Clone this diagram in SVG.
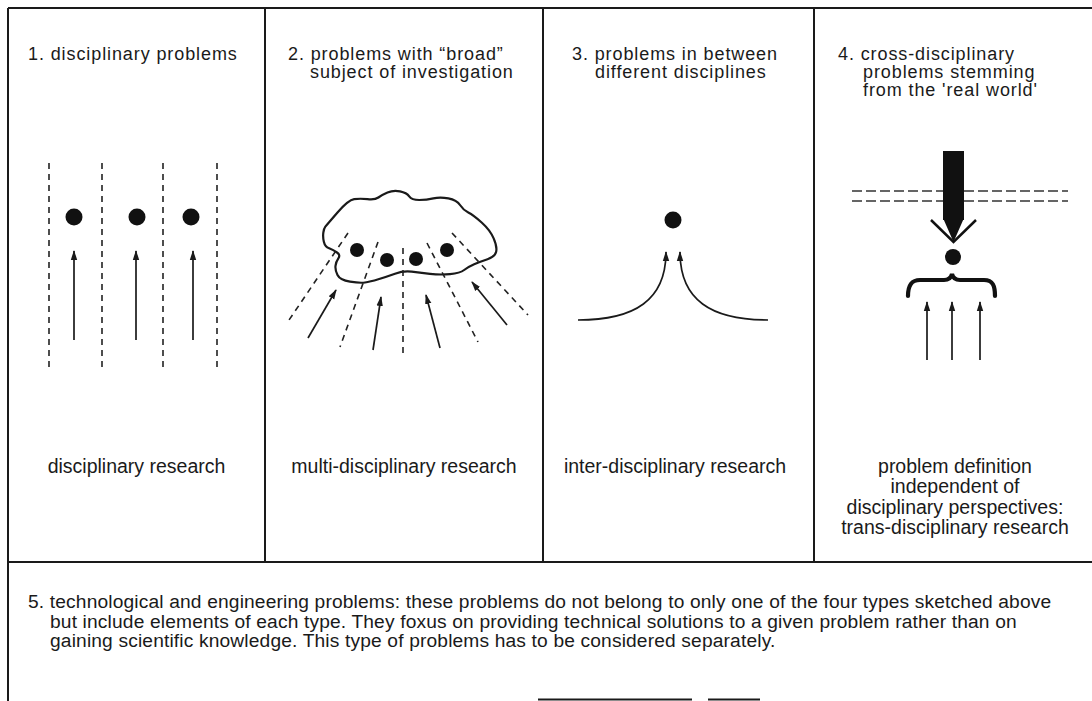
<svg xmlns="http://www.w3.org/2000/svg" width="1092" height="701" viewBox="0 0 1092 701">
<style>
.t{font-family:"Liberation Sans",Arial,Helvetica,sans-serif;font-size:19.5px;fill:#1a1a1a}
.h{font-size:18px;letter-spacing:0.9px}
.p{font-size:19.2px;letter-spacing:0.15px}
.frame{stroke:#1a1a1a;stroke-width:2;fill:none}
.dash{stroke:#222;stroke-width:1.6;stroke-dasharray:6 5;fill:none}
.hdash{stroke:#333;stroke-width:1.5;stroke-dasharray:10 4;fill:none}
.arr{stroke:#1a1a1a;stroke-width:1.7;fill:none;marker-end:url(#ah)}
.dot{fill:#111}
</style>
<defs>
<marker id="ah" viewBox="0 0 10 8" refX="9" refY="4" markerWidth="10" markerHeight="8" orient="auto" markerUnits="userSpaceOnUse">
<path d="M0,0.8 L10,4 L0,7.2 z" fill="#1a1a1a"/>
</marker>
</defs>
<rect width="1092" height="701" fill="#fff"/>

<g id="frame">
<line class="frame" x1="8" y1="8" x2="1092" y2="8"/>
<line class="frame" x1="8" y1="562" x2="1092" y2="562"/>
<line class="frame" x1="8" y1="8" x2="8" y2="701"/>
<line class="frame" x1="265" y1="8" x2="265" y2="562"/>
<line class="frame" x1="543" y1="8" x2="543" y2="562"/>
<line class="frame" x1="814" y1="8" x2="814" y2="562"/>
<line class="frame" x1="538" y1="699.5" x2="692" y2="699.5"/>
<line class="frame" x1="708" y1="699.5" x2="760" y2="699.5"/>
</g>

<g id="panel1">
<text class="t h" x="28" y="60">1. disciplinary problems</text>
<line class="dash" x1="49" y1="163" x2="49" y2="372"/>
<line class="dash" x1="102" y1="163" x2="102" y2="372"/>
<line class="dash" x1="163" y1="163" x2="163" y2="372"/>
<line class="dash" x1="217" y1="163" x2="217" y2="372"/>
<circle class="dot" cx="74" cy="217" r="8.5"/>
<circle class="dot" cx="137" cy="217" r="8.5"/>
<circle class="dot" cx="191" cy="217" r="8.5"/>
<text class="t" x="136.5" y="473" text-anchor="middle">disciplinary research</text>
</g>

<g id="panel2">
<text class="t h" x="288" y="60">2. problems with “broad”<tspan x="310" y="78">subject of investigation</tspan></text>
<path d="M325.35,226.65 Q326.7,225 337.5,212.5 Q348.3,200 354.15,199.15 Q360,198.3 367.5,199.15 Q375,200 378.35,197.5 Q381.7,195 387.5,192.5 Q393.3,190 400,191.35 Q406.7,192.7 409.2,196.35 Q411.7,200 419.2,200 Q426.7,200 433.35,198.35 Q440,196.7 448.35,198.35 Q456.7,200 460,205 Q463.3,210 468.3,212.5 Q473.3,215 481.65,222.5 Q490,230 493.65,238.35 Q497.3,246.7 496.15,251.7 Q495,256.7 487.5,259.2 Q480,261.7 474.15,264.2 Q468.3,266.7 464.15,270 Q460,273.3 450,274.15 Q440,275 430,273.85 Q420,272.7 411.65,271.7 Q403.3,270.7 395,273.7 Q386.7,276.7 378.35,279.2 Q370,281.7 365,282.5 Q360,283.3 350,281.65 Q340,280 337.5,275 Q335,270 335.5,265.85 Q336,261.7 338.35,258.35 Q340.7,255 337,252.5 Q333.3,250 329.15,248.35 Q325,246.7 323.85,241.7 Q322.7,236.7 323.35,232.5 Q324,228.3 325.35,226.65 Z" fill="none" stroke="#1a1a1a" stroke-width="2.2" stroke-linejoin="round"/>
<line class="dash" x1="348" y1="233" x2="287" y2="323"/>
<line class="dash" x1="378" y1="242" x2="340" y2="347"/>
<line class="dash" x1="403" y1="248" x2="403" y2="358"/>
<line class="dash" x1="427" y1="243" x2="478" y2="342"/>
<line class="dash" x1="452" y1="233" x2="528" y2="315"/>
<circle class="dot" cx="357" cy="250" r="7"/>
<circle class="dot" cx="387" cy="260" r="7"/>
<circle class="dot" cx="416" cy="259" r="7"/>
<circle class="dot" cx="447" cy="250" r="7"/>
<text class="t" x="404" y="473" text-anchor="middle">multi-disciplinary research</text>
</g>

<g id="panel3">
<text class="t h" x="572" y="60">3. problems in between<tspan x="595" y="78">different disciplines</tspan></text>
<circle class="dot" cx="673" cy="220" r="8.5"/>
<text class="t" x="675" y="473" text-anchor="middle">inter-disciplinary research</text>
</g>

<g id="panel4">
<text class="t h" x="838" y="60">4. cross-disciplinary<tspan x="863" y="78">problems stemming</tspan><tspan x="863" y="96">from the 'real world'</tspan></text>
<line class="hdash" x1="852" y1="191" x2="1068" y2="191"/>
<line class="hdash" x1="852" y1="201" x2="1068" y2="201"/>
<rect x="943" y="151" width="21" height="69" fill="#111"/>
<polygon points="943,218 953.5,242 964,218" fill="#111"/>
<polyline points="931,220 953.5,242 976,220" fill="none" stroke="#111" stroke-width="2.5"/>
<circle class="dot" cx="953" cy="257" r="8"/>
<path d="M908,296 C908,286 911,280 920,280 L944,280 C949,280 951,278 952,274 C953,278 955,280 960,280 L984,280 C993,280 995,286 995,296" fill="none" stroke="#111" stroke-width="4.2" stroke-linecap="round"/>
<text class="t" x="955" y="473" text-anchor="middle">problem definition<tspan x="955" y="493">independent of</tspan><tspan x="955" y="514">disciplinary perspectives:</tspan><tspan x="955" y="534">trans-disciplinary research</tspan></text>
</g>

<g id="panel5">
<text class="t p" x="28" y="608">5. technological and engineering problems: these problems do not belong to only one of the four types sketched above<tspan x="50" y="627.5">but include elements of each type. They foxus on providing technical solutions to a given problem rather than on</tspan><tspan x="50" y="647">gaining scientific knowledge. This type of problems has to be considered separately.</tspan></text>
</g>

<g id="connectors">
<line class="arr" x1="74" y1="340" x2="74" y2="251"/>
<line class="arr" x1="136" y1="340" x2="136" y2="251"/>
<line class="arr" x1="193" y1="340" x2="193" y2="251"/>
<line class="arr" x1="308" y1="338" x2="336" y2="290"/>
<line class="arr" x1="373" y1="350" x2="381" y2="297"/>
<line class="arr" x1="440" y1="348" x2="426" y2="295"/>
<line class="arr" x1="507" y1="325" x2="472" y2="282"/>
<path class="arr" d="M578,320 C635,320 666,300 666,252"/>
<path class="arr" d="M768,320 C711,320 680,300 680,252"/>
<line class="arr" x1="927" y1="360" x2="927" y2="302"/>
<line class="arr" x1="952" y1="360" x2="952" y2="302"/>
<line class="arr" x1="980" y1="360" x2="980" y2="302"/>
</g>
</svg>
